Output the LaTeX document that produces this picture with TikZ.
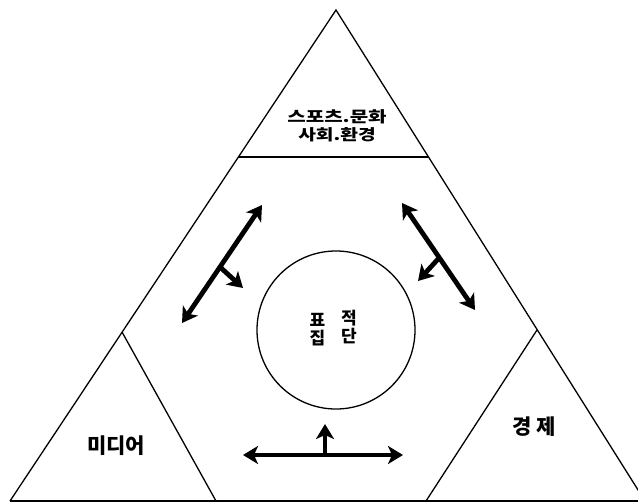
\documentclass[tikz,border=0pt]{standalone}
\usepackage{fontspec}
\setmainfont{Noto Sans CJK KR}
\usetikzlibrary{arrows.meta}
\tikzset{
  thin line/.style={line width=1.3pt, line join=miter},
  tip/.style={},
  thick arrow/.style={line width=4.8pt, {Stealth[length=15pt,width=18pt,inset=4pt]}-{Stealth[length=15pt,width=18pt,inset=4pt]}},
  one arrow/.style={line width=4.8pt, -{Stealth[length=15pt,width=18pt,inset=4pt]}},
  label/.style={inner sep=0pt, font=\fontsize{21pt}{21pt}\selectfont\bfseries},
  small/.style={inner sep=0pt, font=\fontsize{17pt}{17pt}\selectfont\bfseries}
}
\begin{document}
\begin{tikzpicture}[x=1pt,y=-1pt]
\useasboundingbox (0,0) rectangle (638,503);
% vertices
\coordinate (apex) at (336,10);
\coordinate (bl) at (10,501);
\coordinate (br) at (645,501);
\coordinate (hl) at (238,157);
\coordinate (hr) at (428.5,157);
\coordinate (la) at (122,332);
\coordinate (lb) at (216,501);
\coordinate (ra) at (537,330);
\coordinate (rb) at (426,501);
% big triangle
\draw[thin line] (bl) -- (apex) -- (br);
\draw[line width=1.8pt] (bl) -- (br);
\draw[thin line] (hl) -- (hr);
\draw[thin line] (la) -- (lb);
\draw[thin line] (ra) -- (rb);
% circle
\node[draw, circle, thin line, minimum size=158pt, inner sep=0pt] (circ) at (336,330) {};
% texts
\node[small] (t1) at (337,117) {\scalebox{1.18}[0.9]{스포츠.문화}};
\node[small] (t2) at (337,135) {\scalebox{1.13}[0.9]{사회.환경}};
\node[label] (media) at (116,446) {미디어};
\node[label] (econ) at (534,427) {경 제};
\node[small] (p1) at (317.5,320) {표};
\node[small] (p2) at (349,318) {적};
\node[small] (p3) at (317.5,338) {집};
\node[small] (p4) at (349,336) {단};
% arrows
\coordinate (a1) at (182,323);
\coordinate (a2) at (262,205);
\coordinate (a3) at (220,267);
\coordinate (a4) at (243,288);
\draw[thick arrow] (a1) -- (a2);
\draw[one arrow] (a3) -- (a4);
\coordinate (b1) at (402,203);
\coordinate (b2) at (475,310);
\coordinate (b3) at (439,258);
\coordinate (b4) at (418,281);
\draw[thick arrow] (b1) -- (b2);
\draw[one arrow] (b3) -- (b4);
\coordinate (c1) at (243,455);
\coordinate (c2) at (403,455);
\coordinate (c3) at (325,455);
\coordinate (c4) at (325,424);
\draw[thick arrow] (c1) -- (c2);
\draw[one arrow] (c3) -- (c4);
\end{tikzpicture}
\end{document}
